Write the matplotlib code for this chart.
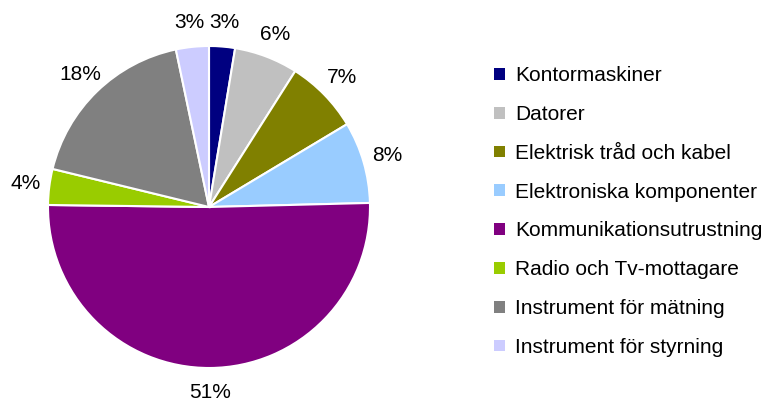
import matplotlib
matplotlib.use("Agg")
import matplotlib.pyplot as plt
from matplotlib.patches import Patch

plt.rcParams['font.family'] = ['Liberation Sans', 'DejaVu Sans']

categories = ["Kontormaskiner", "Datorer", "Elektrisk tråd och kabel",
              "Elektroniska komponenter", "Kommunikationsutrustning",
              "Radio och Tv-mottagare", "Instrument för mätning",
              "Instrument för styrning"]
shares = [2.6, 6.4, 7.4, 8.2, 50.6, 3.6, 17.9, 3.3]
colors = ["#000080", "#C0C0C0", "#808000", "#99CCFF",
          "#800080", "#99CC00", "#808080", "#CCCCFF"]

fig = plt.figure(figsize=(7.65, 4.05), dpi=100)
ax = fig.add_axes([48 / 765, 37 / 405, 322 / 765, 322 / 405])

wedges, texts, autotexts = ax.pie(
    shares, colors=colors, startangle=90, counterclock=False,
    autopct=lambda p: f"{p:.0f}%", pctdistance=1.15,
    wedgeprops=dict(edgecolor="white", linewidth=1.5),
    textprops=dict(fontsize=15, color="black"))
ax.set_xlim(-1, 1)
ax.set_ylim(-1, 1)
ax.set_aspect("equal")

handles = [Patch(facecolor=c, edgecolor="none") for c in colors]
fig.legend(handles, categories, loc="upper left",
           bbox_to_anchor=(486 / 765, 1 - 58 / 405),
           frameon=False, fontsize=15, handlelength=0.5, handleheight=0.5,
           handletextpad=0.5, labelspacing=0.95, borderaxespad=0)

fig.savefig("out.png", dpi=100)
